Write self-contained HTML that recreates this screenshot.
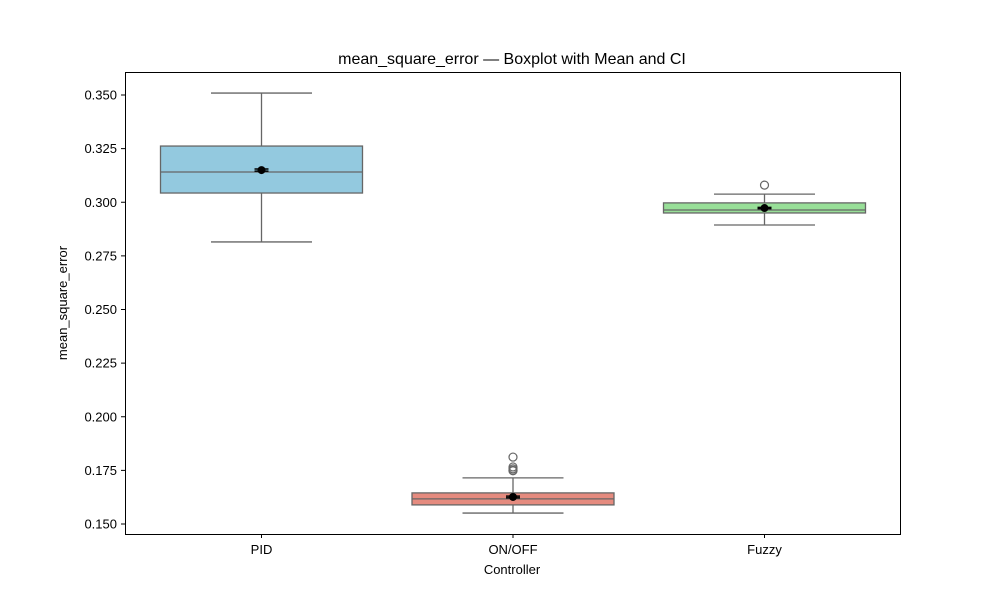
<!DOCTYPE html>
<html><head><meta charset="utf-8"><style>
body{margin:0;background:#fff}
svg text{font-family:"Liberation Sans","DejaVu Sans",sans-serif;fill:#000}
</style></head><body>
<svg id="chart" width="1000" height="600">
<rect x="0" y="0" width="1000" height="600" fill="#fff"/>
<text x="512" y="64" font-size="16" text-anchor="middle">mean_square_error — Boxplot with Mean and CI</text>
<g id="plot"></g>
<rect x="125.5" y="72.5" width="775" height="462" fill="none" stroke="#000" stroke-width="1"/>
<text x="512" y="574" font-size="13" text-anchor="middle">Controller</text>
<text transform="translate(67,303) rotate(-90)" font-size="13" text-anchor="middle">mean_square_error</text>
</svg>
<script>
const categories=["PID","ON/OFF","Fuzzy"];
const q1=[0.3043,0.1589,0.2950];
const medians=[0.3141,0.1617,0.2964];
const q3=[0.3262,0.1645,0.2997];
const whiskLo=[0.2815,0.1551,0.2894];
const whiskHi=[0.3509,0.1715,0.3038];
const means=[0.3150,0.1626,0.2973];
const ciHalf=[0.0005,0.0004,0.0003];
const outliers=[[],[0.1812,0.1766,0.1757,0.1750,0.1748],[0.3080]];
const yTicks=[0.150,0.175,0.200,0.225,0.250,0.275,0.300,0.325,0.350];
const colors=["#93c9df","#e58b7f","#98df98"];
const NS="http://www.w3.org/2000/svg";
const g=document.getElementById('plot');
function y(v){return 95+(0.35-v)*2145;}
function x(i){return 513+(i-1)*251.5;}
function mk(t,a,p){const e=document.createElementNS(NS,t);for(const k in a)e.setAttribute(k,a[k]);(p||g).appendChild(e);return e;}
yTicks.forEach(t=>{
  const ty=y(t);
  const l=mk('line',{x1:121,x2:125,y1:ty,y2:ty,stroke:'#000'});
  
  
  const tx=mk('text',{x:117,y:ty+4.5,'font-size':13,'text-anchor':'end'});
  tx.textContent=t.toFixed(3);
  
  
});
categories.forEach((c,i)=>{
  const cx=x(i), bw=202, cw=101;
  const grp=mk('g',{});
  
  
  mk('line',{x1:cx,x2:cx,y1:y(whiskHi[i]),y2:y(q3[i]),stroke:'#666','stroke-width':1.3},grp);
  mk('line',{x1:cx,x2:cx,y1:y(q1[i]),y2:y(whiskLo[i]),stroke:'#666','stroke-width':1.3},grp);
  mk('line',{x1:cx-cw/2,x2:cx+cw/2,y1:y(whiskHi[i]),y2:y(whiskHi[i]),stroke:'#666','stroke-width':1.3},grp);
  mk('line',{x1:cx-cw/2,x2:cx+cw/2,y1:y(whiskLo[i]),y2:y(whiskLo[i]),stroke:'#666','stroke-width':1.3},grp);
  mk('rect',{x:cx-bw/2,y:y(q3[i]),width:bw,height:y(q1[i])-y(q3[i]),fill:colors[i],stroke:'#666','stroke-width':1.3},grp);
  mk('line',{x1:cx-bw/2,x2:cx+bw/2,y1:y(medians[i]),y2:y(medians[i]),stroke:'#666','stroke-width':1.3},grp);
  outliers[i].forEach(o=>{
    const f=mk('circle',{cx:cx,cy:y(o),r:4,fill:'none',stroke:'#666','stroke-width':1.2},grp);
    
    
  });
  const my=y(means[i]);
  mk('line',{x1:cx,x2:cx,y1:y(means[i]+ciHalf[i]),y2:y(means[i]-ciHalf[i]),stroke:'#000','stroke-width':1.5},grp);
  mk('line',{x1:cx-7,x2:cx+7,y1:y(means[i]+ciHalf[i]),y2:y(means[i]+ciHalf[i]),stroke:'#000','stroke-width':1.5},grp);
  mk('line',{x1:cx-7,x2:cx+7,y1:y(means[i]-ciHalf[i]),y2:y(means[i]-ciHalf[i]),stroke:'#000','stroke-width':1.5},grp);
  const m=mk('circle',{cx:cx,cy:my,r:4,fill:'#000'},grp);
  
  
  const t=mk('line',{x1:cx,x2:cx,y1:534,y2:538,stroke:'#000'});
  
  
  const tl=mk('text',{x:cx,y:554,'font-size':13,'text-anchor':'middle'});
  tl.textContent=c;
  
  
});
</script>
</body></html>
